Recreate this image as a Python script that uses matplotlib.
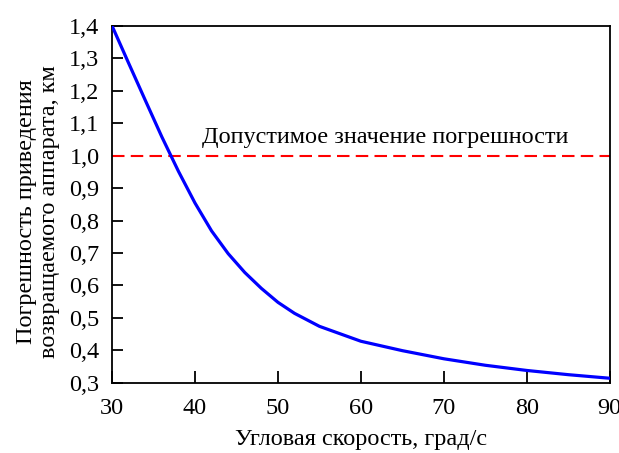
import numpy as np
import matplotlib.pyplot as plt

plt.rcParams['font.family'] = ['Liberation Serif', 'DejaVu Serif']

# angular speed, deg/s and reduction error, km
speed = [30, 32, 34, 36, 38, 40, 42, 44, 46, 48, 50, 52, 55, 60, 65, 70, 75, 80, 85, 90]
error = [1.400, 1.285, 1.171, 1.058, 0.952, 0.854, 0.768, 0.698, 0.640, 0.591,
         0.548, 0.514, 0.474, 0.428, 0.399, 0.374, 0.354, 0.338, 0.325, 0.314]

limit_value = 1.0
limit_label = 'Допустимое значение погрешности'
x_ticks = [30, 40, 50, 60, 70, 80, 90]
y_ticks = [0.3, 0.4, 0.5, 0.6, 0.7, 0.8, 0.9, 1.0, 1.1, 1.2, 1.3, 1.4]


def main():
    fig = plt.figure(figsize=(6.19, 4.53), dpi=100)
    ax = fig.add_axes([0.181, 0.155, 0.804, 0.788])

    ax.plot(speed, error, color='#0000ff', lw=2.3, zorder=3,
            solid_joinstyle='round')
    ax.plot([speed[0], speed[-1]], [limit_value, limit_value], color='#ff0000',
            lw=1.5, dashes=(6, 3), zorder=2)

    ax.text(40.9, 1.025, limit_label, fontsize=17.5, ha='left', va='bottom')

    ax.set_xlim(30, 90)
    ax.set_ylim(0.3, 1.4)
    ax.set_xticks(x_ticks)
    ax.set_yticks(y_ticks)
    ax.set_yticklabels([f'{v:.1f}'.replace('.', ',') for v in y_ticks])
    ax.tick_params(direction='in', length=8, width=1.3, labelsize=17.5, pad=9)
    ax.tick_params(axis='x', length=9, pad=11)
    for s in ax.spines.values():
        s.set_linewidth(1.3)

    ax.set_xlabel('Угловая скорость, град/с', fontsize=17.5, labelpad=7)
    ax.set_ylabel('Погрешность приведения\nвозвращаемого аппарата, км',
                  fontsize=17.5, linespacing=1.15)
    ax.yaxis.set_label_coords(-0.104, 0.48)

    fig.savefig('out.png', dpi=100, facecolor='white')


if __name__ == '__main__':
    main()
